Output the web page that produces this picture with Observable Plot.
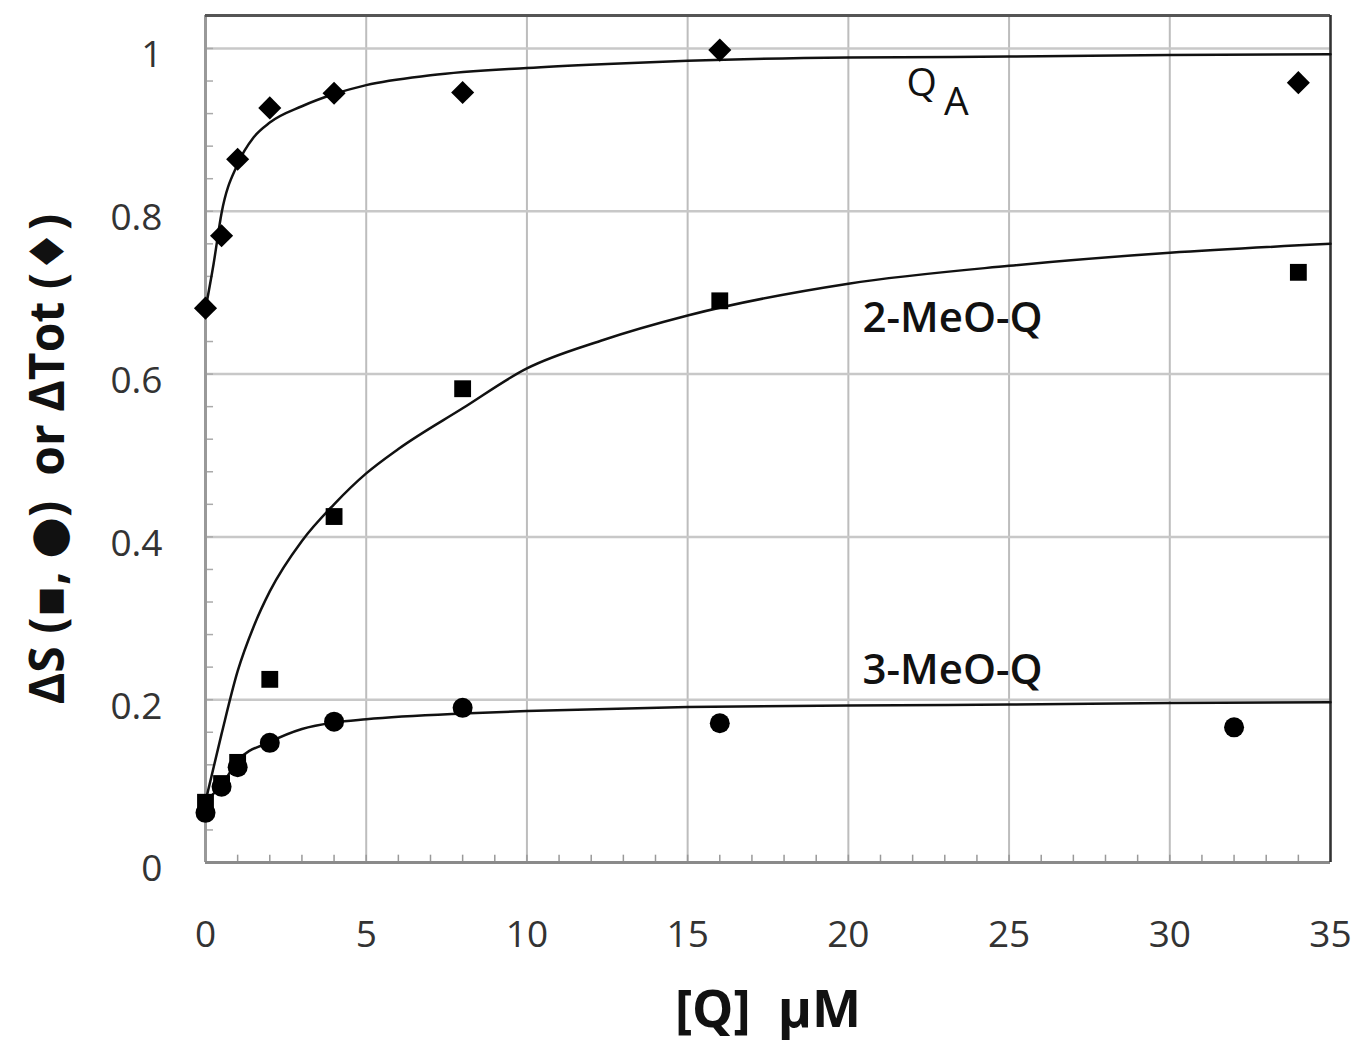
<!DOCTYPE html>
<html><head><meta charset="utf-8">
<script src="https://cdn.jsdelivr.net/npm/d3@7"></script>
<script src="https://cdn.jsdelivr.net/npm/@observablehq/plot@0.6"></script>
<style>
  html,body{margin:0;padding:0;background:#fff;}
  #chart svg{display:block;}
</style>
</head><body>
<div id="chart"></div>
<script>
// measured points
const qaX = [0, 0.5, 1, 2, 4, 8, 16, 34];
const qaY = [0.681, 0.770, 0.864, 0.927, 0.945, 0.946, 0.998, 0.958];
const meo2X = [0, 0.5, 1, 2, 4, 8, 16, 34];
const meo2Y = [0.074, 0.097, 0.123, 0.225, 0.425, 0.582, 0.690, 0.725];
const meo3X = [0, 0.5, 1, 2, 4, 8, 16, 32];
const meo3Y = [0.061, 0.093, 0.117, 0.147, 0.173, 0.190, 0.171, 0.166];

// fitted curves
const qaCurveX = [0, 0.25, 0.5, 1, 1.5, 2, 3, 4, 5, 7, 10, 12.5, 15, 20, 25, 30, 35];
const qaCurveY = [0.68, 0.735, 0.798, 0.858, 0.891, 0.909, 0.929, 0.944, 0.955, 0.967, 0.976, 0.981, 0.985, 0.989, 0.990, 0.992, 0.993];
const meo2CurveX = [0, 0.5, 1, 1.5, 2, 3, 4, 5, 6, 8, 10, 12.3, 15, 20, 25, 30, 35];
const meo2CurveY = [0.075, 0.158, 0.235, 0.29, 0.333, 0.395, 0.44, 0.478, 0.508, 0.558, 0.607, 0.641, 0.672, 0.711, 0.733, 0.749, 0.760];
const meo3CurveX = [0, 0.5, 1, 2, 3, 4, 5, 8, 10, 15, 20, 25, 30, 35];
const meo3CurveY = [0.076, 0.095, 0.125, 0.148, 0.164, 0.172, 0.176, 0.183, 0.186, 0.191, 0.193, 0.194, 0.196, 0.197];

// ticks
const xTicks = [0, 5, 10, 15, 20, 25, 30, 35];
const yTicks = [0, 0.2, 0.4, 0.6, 0.8, 1];
const xMinor = d3.range(1, 35, 1);
const yMinor = d3.range(0.04, 1.04, 0.04);

// curve labels
const labelText = ["2-MeO-Q", "3-MeO-Q"];
const labelX = [20.44, 20.44];
const labelY = [0.668, 0.236];
const qaLabel = [{t: "Q", x: 22.28, y: 0.957}, {t: "A", x: 23.36, y: 0.933}];

const xTitle = "[Q]  μM";
const yTitle = "ΔS (▪, ●)  or ΔTot (♦)";

const pts = (xs, ys) => xs.map((x, i) => ({x, y: ys[i]}));
const labels = labelText.map((t, i) => ({t, x: labelX[i], y: labelY[i]}));

const font = "'Open Sans', 'DejaVu Sans', sans-serif";
const plot = Plot.plot({
  width: 1357, height: 1057,
  marginLeft: 205, marginRight: 27, marginTop: 15, marginBottom: 195,
  style: {fontFamily: font, background: "#fff", overflow: "visible"},
  x: {domain: [0, 35], axis: null, label: null},
  y: {domain: [0, 1.0405], axis: null, label: null},
  marks: [
    Plot.gridX(xTicks, {stroke: "#bdbdbd", strokeOpacity: 1, strokeWidth: 2}),
    Plot.gridY(yTicks, {stroke: "#c8c8c8", strokeOpacity: 1, strokeWidth: 2.5}),
    Plot.ruleX(xMinor, {y1: 0, y2: 0.009, stroke: "#999", strokeWidth: 1.5}),
    Plot.ruleY(yMinor, {x1: 0, x2: 0.25, stroke: "#aaa", strokeWidth: 1.5}),
    Plot.ruleX([0], {stroke: "#999", strokeWidth: 3}),
    Plot.ruleY([0], {stroke: "#8a8a8a", strokeWidth: 3}),
    Plot.ruleY([1.0405], {stroke: "#555", strokeWidth: 3}),
    Plot.ruleX([35], {stroke: "#333", strokeWidth: 2.5}),
    Plot.axisX({ticks: xTicks, tickSize: 0, tickPadding: 58, fontSize: 37, color: "#333", label: null, tickFormat: d => String(d)}),
    Plot.axisY({ticks: yTicks, tickSize: 0, tickPadding: 43, fontSize: 37, color: "#333", label: null, dy: 7, tickFormat: d => String(d)}),
    Plot.line(pts(qaCurveX, qaCurveY), {x: "x", y: "y", curve: "monotone-x", stroke: "#111", strokeWidth: 2.5}),
    Plot.line(pts(meo2CurveX, meo2CurveY), {x: "x", y: "y", curve: "monotone-x", stroke: "#111", strokeWidth: 2.5}),
    Plot.line(pts(meo3CurveX, meo3CurveY), {x: "x", y: "y", curve: "monotone-x", stroke: "#111", strokeWidth: 2.5}),
    Plot.dot(pts(meo2X, meo2Y), {x: "x", y: "y", symbol: "square", r: 9.5, fill: "#000", stroke: "none"}),
    Plot.dot(pts(meo3X, meo3Y), {x: "x", y: "y", symbol: "circle", r: 10, fill: "#000", stroke: "none"}),
    Plot.dot(pts(qaX, qaY), {x: "x", y: "y", symbol: "diamond2", r: 10.4, fill: "#000", stroke: "none"}),
    Plot.text(labels, {x: "x", y: "y", text: "t", textAnchor: "start", fontSize: 42, fontWeight: 600, fill: "#111"}),
    Plot.text(qaLabel, {x: "x", y: "y", text: "t", fontSize: 39, fill: "#111"}),
    Plot.text([xTitle], {frameAnchor: "bottom", dy: 164, fontSize: 52, fontWeight: "bold", fill: "#111"}),
    Plot.text([yTitle], {frameAnchor: "left", textAnchor: "middle", dx: -157, dy: 20, rotate: -90, fontSize: 48, fontWeight: "bold", fill: "#111"})
  ]
});
document.getElementById("chart").appendChild(plot);
</script>
</body></html>
